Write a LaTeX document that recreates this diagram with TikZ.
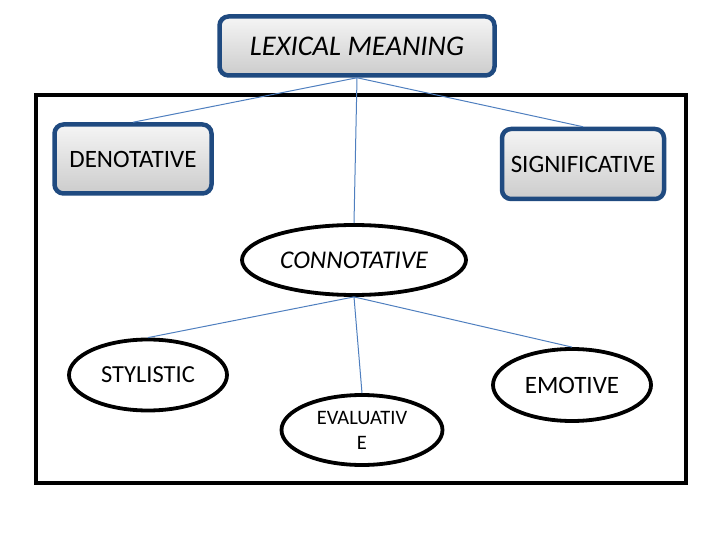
\documentclass[tikz,border=0pt]{standalone}
\usepackage{fontspec}
\setmainfont{Carlito}
\usepackage{tikz}
\usetikzlibrary{shapes.geometric, arrows.meta, calc}
\usepackage{xcolor}
\definecolor{frameblue}{HTML}{1F4A80}
\definecolor{linkblue}{HTML}{4F7FBF}

\begin{document}
\begin{tikzpicture}[x=1pt, y=-1pt,
    box/.style={draw=frameblue, line width=4.5pt, rounded corners=9pt,
        top color=gray!8, bottom color=gray!40, inner sep=0pt},
    oval/.style={draw=black, ellipse, line width=3.8pt, fill=white, inner sep=0pt},
    link/.style={draw=linkblue, line width=1pt}]
    \useasboundingbox (0,0) rectangle (720,540);
    % Rahmen
    \draw[line width=4pt] (36,95) rectangle (686,483);
    % Kästen
    \node[box, minimum width=275pt, minimum height=59pt, font=\fontsize{28.5}{32}\selectfont\itshape]
        (lexical) at (357,46) {LEXICAL MEANING};
    \node[box, minimum width=157pt, minimum height=69pt, font=\fontsize{25}{28}\selectfont]
        (denot) at (133,159) {DENOTATIVE};
    \node[box, minimum width=162pt, minimum height=70pt, font=\fontsize{25}{28}\selectfont]
        (signif) at (583,164) {SIGNIFICATIVE};
    % Ellipsen
    \node[oval, minimum width=224pt, minimum height=70pt, font=\fontsize{25.5}{28}\selectfont\itshape]
        (connot) at (354,260) {CONNOTATIVE};
    \node[oval, minimum width=158pt, minimum height=71pt, font=\fontsize{24.5}{28}\selectfont]
        (stylis) at (148,375) {STYLISTIC};
    \node[oval, minimum width=158pt, minimum height=72pt, font=\fontsize{25}{28}\selectfont]
        (emot) at (572,385) {EMOTIVE};
    \node[oval, minimum width=161pt, minimum height=70pt, align=center,
        font=\fontsize{20.5}{25}\selectfont]
        (evalu) at (362,430) {EVALUATIV\\E};
    % Verbindungen
    \foreach \to in {denot, signif, connot}
        \draw[link] (lexical.south) -- (\to.north);
    \foreach \to in {stylis, evalu, emot}
        \draw[link] (connot.south) -- (\to.north);
\end{tikzpicture}
\end{document}
